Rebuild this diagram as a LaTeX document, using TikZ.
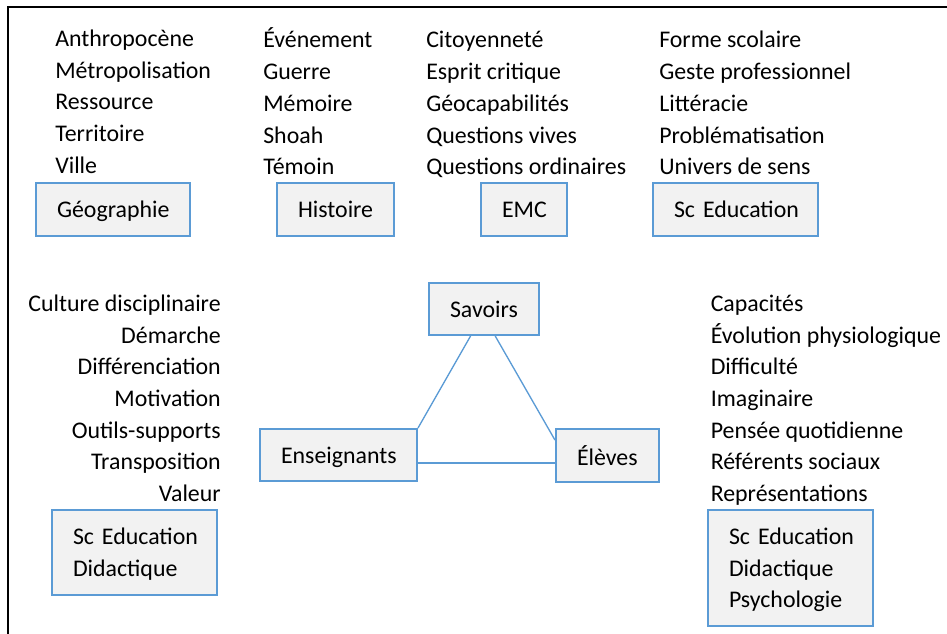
\documentclass[tikz,border=0pt]{standalone}
\usepackage{fontspec}
\setmainfont{Carlito}
\usetikzlibrary{calc}
\definecolor{boxblue}{RGB}{91,155,213}
\definecolor{boxfill}{RGB}{242,242,242}
\begin{document}
\begin{tikzpicture}[x=0.75pt,y=-0.75pt,
  every node/.style={font=\fontsize{17.9}{23.8}\selectfont, text=black},
  item/.style={inner sep=0pt},
  box/.style={draw=boxblue, line width=1.5pt, fill=boxfill, inner xsep=15.75pt,
    inner ysep=0pt, text width=#1, align=left,
    execute at begin node={\hyphenpenalty=10000\exhyphenpenalty=10000}},
  onebox/.style={box=#1, text depth=0pt},
  link/.style={draw=boxblue, line width=1pt},
  frame/.style={draw=black, line width=1.5pt}]
\useasboundingbox (0,0) rectangle (947,634);
\coordinate (fbl) at (8,634);
\coordinate (ftl) at (8,7);
\coordinate (ftr) at (947,7);
\draw[frame] (fbl) -- (ftl) -- (ftr);

% top lists
\foreach \t [count=\i] in {Anthropocène,Métropolisation,Ressource,Territoire,Ville}
  \node[item, anchor=base west] (geo\i) at (55,{46.5+31.7*(\i-1)}) {\t};
\foreach \t [count=\i] in {Événement,Guerre,Mémoire,Shoah,Témoin}
  \node[item, anchor=base west] (his\i) at (263,{48+31.7*(\i-1)}) {\t};
\foreach \t [count=\i] in {Citoyenneté,Esprit critique,Géocapabilités,Questions vives,Questions ordinaires}
  \node[item, anchor=base west] (emc\i) at (426,{48+31.7*(\i-1)}) {\t};
\foreach \t [count=\i] in {Forme scolaire,Geste professionnel,Littéracie,Problématisation,Univers de sens}
  \node[item, anchor=base west] (sce\i) at (659,{48+31.7*(\i-1)}) {\t};

% top boxes
\node[onebox=84pt, minimum height=39.75pt] (geo) at (113,209.5) {Géographie};
\node[onebox=56.25pt, minimum height=39.75pt] (his) at (335.5,209.5) {Histoire};
\node[onebox=33pt, minimum height=39.75pt] (emc) at (524,209.5) {EMC};
\node[onebox=92.25pt, minimum height=39.75pt] (sce) at (735.5,209.5) {\mbox{Sc Education}};

% lower lists
\foreach \t [count=\i] in {Culture disciplinaire,Démarche,Différenciation,Motivation,Outils-supports,Transposition,Valeur}
  \node[item, anchor=base east] (ens\i) at (221,{311.7+31.6*(\i-1)}) {\t};
\foreach \t [count=\i] in {Capacités,Évolution physiologique,Difficulté,Imaginaire,Pensée quotidienne,Référents sociaux,Représentations}
  \node[item, anchor=base west] (ele\i) at (710.5,{311.7+31.6*(\i-1)}) {\t};

% triangle
\node[onebox=51pt, minimum height=39pt] (sav) at (484,309) {Savoirs};
\node[onebox=86.25pt, minimum height=39pt] (ens) at (338.5,455) {Enseignants};
\node[onebox=45.75pt, minimum height=39.75pt] (ele) at (607.5,455.5) {Élèves};

\draw[link] ($(sav.south west)!0.38!(sav.south east)$) -- (ens.north east);
\draw[link] ($(sav.south west)!0.6!(sav.south east)$) -- ($(ele.north west)!0.22!(ele.south west)$);
\draw[link] ($(ens.north east)!0.65!(ens.south east)$) coordinate (h1) -- (h1 -| ele.west);

% bottom boxes
\node[box=92.25pt, minimum height=63.75pt, text depth=24pt] (lb) at (134.5,552.5) {\mbox{Sc Education}\\Didactique};
\node[box=92.25pt, minimum height=87pt, text depth=47.8pt] (rb) at (790.5,568) {\mbox{Sc Education}\\Didactique\\Psychologie};
\end{tikzpicture}
\end{document}
